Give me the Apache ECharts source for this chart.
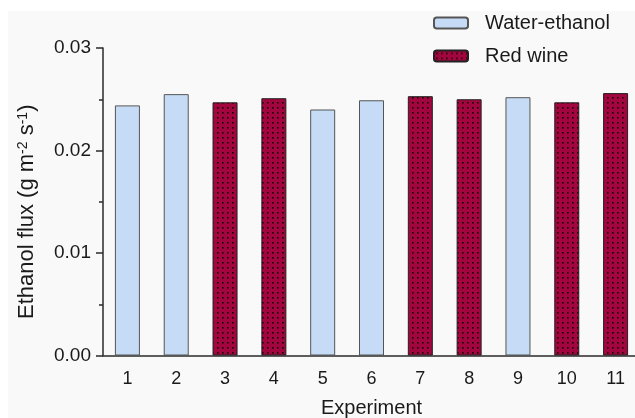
<!DOCTYPE html>
<html>
<head>
<meta charset="utf-8">
<script src="https://cdn.jsdelivr.net/npm/echarts@6/dist/echarts.min.js"></script>
<style>
  html, body { margin: 0; padding: 0; background: #ffffff; }
  #chart { width: 635px; height: 418px; }
</style>
</head>
<body>
<div id="chart"></div>
<script>
// ---- data ----
var categories = ['1', '2', '3', '4', '5', '6', '7', '8', '9', '10', '11'];
var waterEthanol = [0.0244, 0.0255, null, null, 0.0240, 0.0249, null, null, 0.0252, null, null];
var redWine = [null, null, 0.0247, 0.0251, null, null, 0.0253, 0.0250, null, 0.0247, 0.0256];
var yTicks = [0, 0.01, 0.02, 0.03];
var seriesNames = ['Water-ethanol', 'Red wine'];

// dotted pattern for red wine
function makePattern() {
  var c = document.createElement('canvas');
  c.width = 5; c.height = 5;
  var ctx = c.getContext('2d');
  ctx.fillStyle = '#a3063f';
  ctx.fillRect(0, 0, 5, 5);
  ctx.fillStyle = '#1a0008';
  ctx.fillRect(2, 2, 1.6, 1.6);
  return c;
}
var pattern = { image: makePattern(), repeat: 'repeat' };

var chart = echarts.init(document.getElementById('chart'), null, { renderer: 'canvas' });
var font = 'Liberation Sans, Arial, sans-serif';

chart.setOption({
  backgroundColor: '#ffffff',
  animation: false,
  graphic: [{
    type: 'rect', z: -10, silent: true,
    shape: { x: 8, y: 11, width: 627, height: 407 },
    style: { fill: '#f9f9f9' }
  }],
  legend: {
    orient: 'vertical',
    left: 428,
    top: 8,
    itemWidth: 34,
    itemHeight: 11,
    itemGap: 13,
    textStyle: { fontFamily: font, fontSize: 20, color: '#1a1a1a', padding: [0, 0, 0, 12] },
    data: seriesNames
  },
  grid: { left: 103, top: 48, width: 537, height: 307.5, containLabel: false, outerBoundsMode: 'none' },
  xAxis: {
    type: 'category',
    data: categories,
    boundaryGap: true,
    name: 'Experiment',
    nameLocation: 'middle',
    nameGap: 43,
    nameTextStyle: { fontFamily: font, fontSize: 20, color: '#1a1a1a' },
    axisLine: { lineStyle: { color: '#2a2a2a', width: 1.5 } },
    axisTick: { alignWithLabel: true, length: 6, lineStyle: { color: '#2a2a2a', width: 1.5 } },
    axisLabel: { fontFamily: font, fontSize: 18, color: '#1a1a1a', margin: 15 },
    splitLine: { show: false }
  },
  yAxis: {
    type: 'value',
    min: yTicks[0],
    max: yTicks[yTicks.length - 1],
    interval: 0.01,
    name: 'Ethanol flux (g m{sup|-2} s{sup|-1})',
    nameLocation: 'middle',
    nameGap: 65,
    nameRotate: 90,
    nameTextStyle: {
      fontFamily: font, fontSize: 22, color: '#1a1a1a',
      padding: [0, 20, 0, 0],
      rich: { sup: { fontFamily: font, fontSize: 14, color: '#1a1a1a', verticalAlign: 'top' } }
    },
    axisLine: { show: true, lineStyle: { color: '#2a2a2a', width: 1.5 } },
    axisTick: { show: true, length: 7, lineStyle: { color: '#2a2a2a', width: 1.5 } },
    minorTick: { show: true, splitNumber: 2, length: 4, lineStyle: { color: '#2a2a2a', width: 1.5 } },
    axisLabel: {
      fontFamily: font, fontSize: 19, color: '#1a1a1a', margin: 12,
      formatter: function (v) { return v.toFixed(2); }
    },
    splitLine: { show: false }
  },
  series: [
    {
      name: seriesNames[0],
      type: 'bar',
      data: waterEthanol,
      barWidth: 25,
      barGap: '-100%',
      itemStyle: { color: '#c6dcf6', borderColor: '#555555', borderWidth: 1 }
    },
    {
      name: seriesNames[1],
      type: 'bar',
      data: redWine,
      barWidth: 25,
      barGap: '-100%',
      itemStyle: { color: pattern, borderColor: '#222222', borderWidth: 1 }
    }
  ]
});
</script>
</body>
</html>
